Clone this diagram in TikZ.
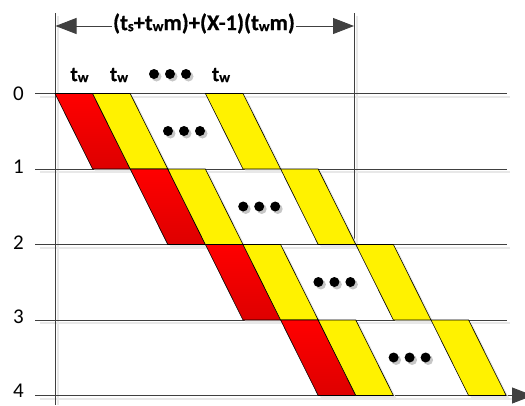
\documentclass[tikz,border=0pt]{standalone}
\usepackage{fontspec}
\setmainfont{Carlito}[BoldFeatures={FakeBold=0.6}]
\usetikzlibrary{arrows.meta}
\definecolor{ln}{HTML}{404040}
\definecolor{shd}{HTML}{E8E8E8}
\newcommand{\smallsub}[1]{\raisebox{-1pt}{\fontsize{14.5}{14.5}\selectfont #1}}
\begin{document}
\begin{tikzpicture}[x=1pt,y=-1pt,
  hl/.style={draw=ln, line width=0.9pt},
  shline/.style={draw=shd, line width=2pt},
  redp/.style={draw=black, line width=0.6pt, top color=red, bottom color=red!87!black},
  yelp/.style={draw=black, line width=0.6pt, fill=yellow},
  shpar/.style={fill=shd},
  dot/.style={circle, fill=black, inner sep=0pt, minimum size=10pt},
  dotsh/.style={circle, fill=black!22, inner sep=0pt, minimum size=10pt},
  lab/.style={font=\fontsize{21}{24}\selectfont, inner sep=0pt},
  blab/.style={font=\fontsize{21}{24}\selectfont\bfseries, inner sep=0pt},
  tip/.style={-{Triangle[length=21pt,width=16pt]}, draw=ln, fill=ln, line width=0.9pt}
]
\useasboundingbox (0,0) rectangle (525,405);
% ---- coordinates ----
\foreach \i in {0,...,4} {
  \pgfmathsetmacro\yy{93.5+75.5*\i}
  \coordinate (h\i s) at (35,\yy);
  \coordinate (h\i e) at (507,\yy);
}
\foreach \i/\ly in {0/94,1/167,2/242.5,3/317,4/391} {
  \node[lab] (n\i) at (18.5,\ly) {\i};
}
\coordinate (h4a) at (533,395.5);
\coordinate (vt) at (55,13);
\coordinate (vb) at (55,405);
\coordinate (wt) at (354,13);
\coordinate (wb) at (354,244.5);
\coordinate (L) at (55.5,26);
\coordinate (R) at (354,26);
% ---- shadows of lines ----
\foreach \i in {0,...,3} {
  \draw[shline] ([shift={(5,3)}]h\i s) -- ([shift={(3,3)}]h\i e);
}
\draw[shline] ([shift={(5,3)}]h4s) -- ([shift={(-20,3)}]h4a);
\draw[shline] ([shift={(3,3)}]vt) -- ([shift={(3,0)}]vb);
\draw[shline] ([shift={(3,3)}]wt) -- ([shift={(3,3)}]wb);
% ---- lines ----
\foreach \i in {0,...,3} { \draw[hl] (h\i s) -- (h\i e); }
\draw[tip] (h4s) -- (h4a);
\draw[hl] (vt) -- (vb);
\draw[hl] (wt) -- (wb);
% ---- parallelogram shadows ----
\foreach \i in {0,...,3} {
  \pgfmathsetmacro\yt{93.5+75.5*\i+3}
  \foreach \k in {0,1,4} {
    \pgfmathsetmacro\xa{55+37.6*(2*\i+\k)+3}
    \path[shpar] (\xa,\yt) -- ++(37.6,0) -- ++(37.6,75.5) -- ++(-37.6,0) -- cycle;
  }
}
% ---- parallelograms ----
\foreach \i in {0,...,3} {
  \pgfmathsetmacro\yt{93.5+75.5*\i}
  \pgfmathsetmacro\xa{55+37.6*(2*\i)}
  \path[redp] (\xa,\yt) -- ++(37.6,0) -- ++(37.6,75.5) -- ++(-37.6,0) -- cycle;
  \foreach \k in {1,4} {
    \pgfmathsetmacro\xb{55+37.6*(2*\i+\k)}
    \path[yelp] (\xb,\yt) -- ++(37.6,0) -- ++(37.6,75.5) -- ++(-37.6,0) -- cycle;
  }
}
% ---- dots in rows ----
\foreach \i in {0,...,3} {
  \pgfmathsetmacro\cx{184+75.2*\i}
  \pgfmathsetmacro\cy{131+75.5*\i}
  \foreach \d in {-16,0,16} {
    \node[dotsh] at (\cx+\d+2.5,\cy+2.5) {};
    \node[dot] (d\i\d) at (\cx+\d,\cy) {};
  }
}
% ---- top labels ----
\node[blab] (tw1) at (79.5,75) {t\smallsub{w}};
\node[blab] (tw2) at (119,75) {t\smallsub{w}};
\node[blab] (tw3) at (221,75) {t\smallsub{w}};
\foreach \x in {154,170,186} {
  \node[dotsh] at (\x+2.5,76.5) {};
  \node[dot] (td\x) at (\x,74) {};
}
% ---- dimension ----
\node[blab, font=\fontsize{22.5}{26}\selectfont\bfseries, inner xsep=1pt] (title) at (204,23.5) {(t\smallsub{s}+t\smallsub{w}m)+(X-1)(t\smallsub{w}m)};
\draw[tip] (title.west|-L) -- (L);
\draw[tip] (title.east|-R) -- (R);
\end{tikzpicture}
\end{document}
